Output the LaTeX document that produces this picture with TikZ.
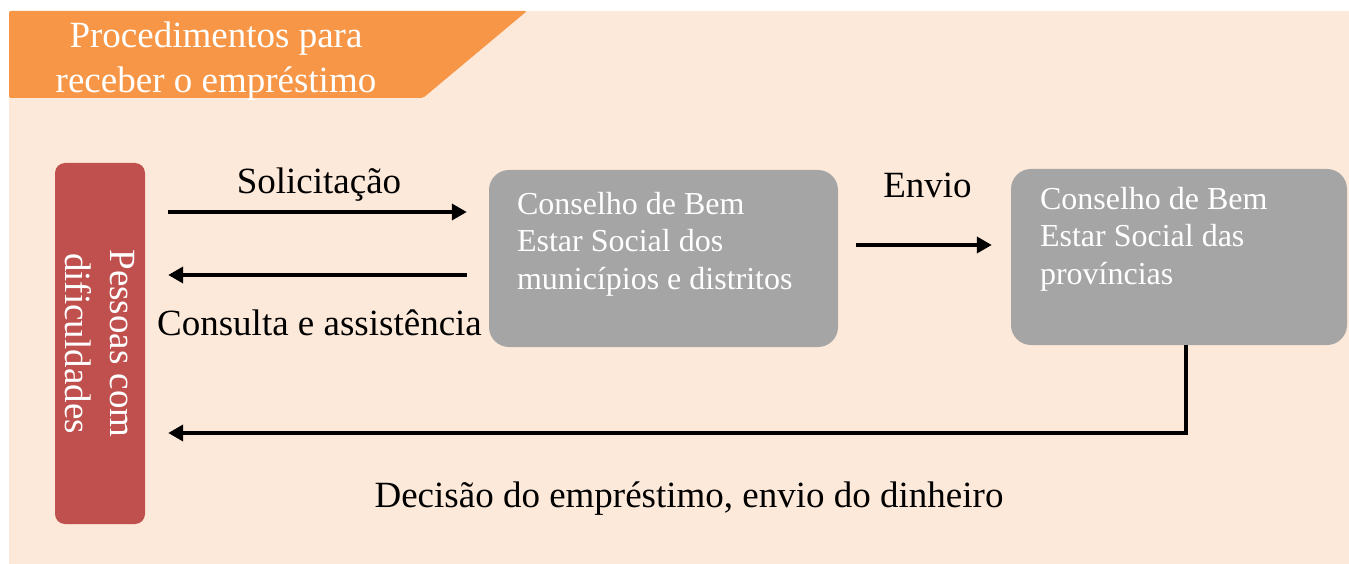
\documentclass[tikz,border=0pt]{standalone}
\usepackage{fontspec}
\setmainfont{Liberation Serif}
\usetikzlibrary{arrows.meta}
\usetikzlibrary{positioning}

\definecolor{peach}{HTML}{FDE9D9}
\definecolor{bannerorange}{HTML}{F79646}
\definecolor{boxred}{HTML}{C0504D}
\definecolor{boxgray}{HTML}{A5A5A5}

\tikzset{
  person/.style={fill=boxred, rounded corners=10pt, minimum width=90pt,
    minimum height=361pt, inner sep=0pt},
  council/.style={fill=boxgray, rounded corners=20pt, inner sep=0pt},
  counciltext/.style={text=white, align=left, inner sep=0pt,
    font=\fontsize{32}{37.5}\selectfont},
  flowlabel/.style={anchor=base, inner sep=0pt, font=\fontsize{37}{43}\selectfont},
  flow/.style={line width=4pt, -{Triangle[length=15pt,width=16pt]}}
}

\begin{document}
\begin{tikzpicture}[x=1pt,y=-1pt]
  \useasboundingbox (0,0) rectangle (1349,564);

  % background and title banner
  \fill [peach] (9,11) rectangle (1349,564);
  \fill [bannerorange, rounded corners=2pt] (9,11) -- (527,11) -- (423,98) -- (9,98) -- cycle;
  \node [anchor=north, align=center, text=white, inner sep=0pt,
    font=\fontsize{37}{45}\selectfont] (title) at (216,22)
    {Procedimentos para\\receber o empréstimo};

  % boxes
  \node [person] (people) at (100,343.5) {};
  \node [rotate=-90, align=center, text=white, inner sep=0pt,
    font=\fontsize{37}{45}\selectfont] (peopletext) at (people) {Pessoas com\\dificuldades};

  \node [council, minimum width=349pt, minimum height=177pt] (local) at (663.5,258.5) {};
  \node [counciltext, below right=22pt and 28pt of local.north west] (localtext)
    {Conselho de Bem\\Estar Social dos\\municípios e distritos};

  \node [council, minimum width=336pt, minimum height=176pt] (province) at (1179,257) {};
  \node [counciltext, below right=18pt and 29pt of province.north west] (provincetext)
    {Conselho de Bem\\Estar Social das\\províncias};

  % arrows
  \draw [flow, shorten <=23pt, shorten >=22pt] (people.east |- 0,212) -- (local.west |- 0,212);
  \draw [flow, shorten <=22pt, shorten >=23pt] (local.west |- 0,275) -- (people.east |- 0,275);
  \draw [flow, shorten <=18pt, shorten >=19pt] (local.east |- 0,245) -- (province.west |- 0,245);
  \draw [flow, shorten >=23pt] ([xshift=7pt]province.south) |- (people.east |- 0,433);

  % labels
  \node [flowlabel] (asklabel) at (319,194) {Solicitação};
  \node [flowlabel] (helplabel) at (319.5,335) {Consulta e assistência};
  \node [flowlabel] (sendlabel) at (927.5,197) {Envio};
  \node [flowlabel] (decisionlabel) at (689,507) {Decisão do empréstimo, envio do dinheiro};

\end{tikzpicture}
\end{document}
